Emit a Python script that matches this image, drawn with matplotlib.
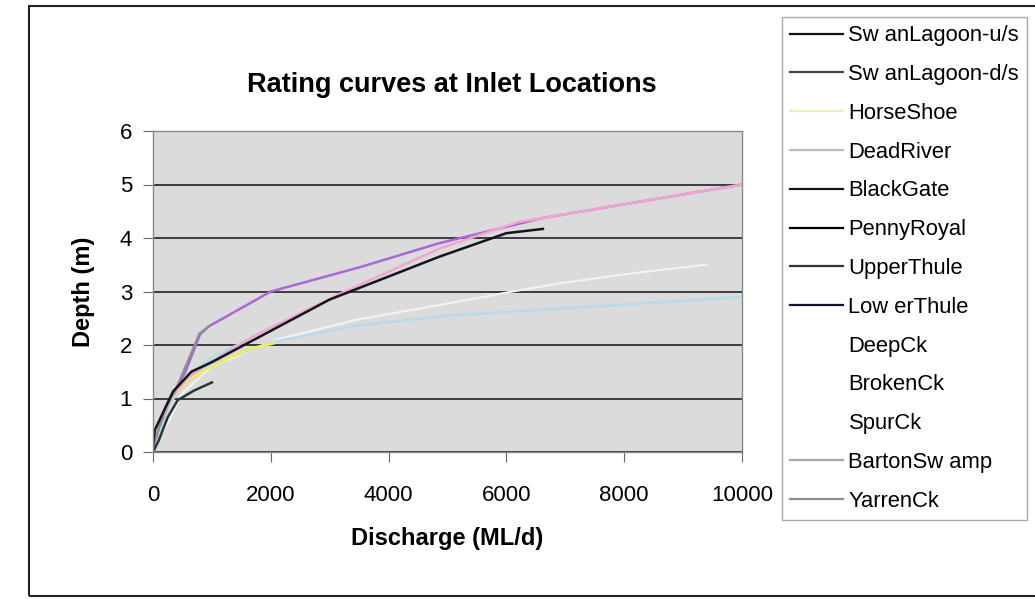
import matplotlib
matplotlib.use("Agg")
import matplotlib.pyplot as plt
from matplotlib.lines import Line2D
from matplotlib.patches import Rectangle

plt.rcParams['font.family'] = ['Liberation Sans', 'DejaVu Sans']

# discharge (ML/d) / depth (m) pairs per inlet
swan_us_q = [0, 100, 250, 420, 700, 1000]
swan_us_d = [0, 0.22, 0.65, 0.97, 1.15, 1.3]

lower_thule_q = [0, 100, 300, 550, 800, 950, 2000, 3500, 4850, 6600, 10000]
lower_thule_d = [0.05, 0.45, 1.0, 1.5, 2.2, 2.35, 3.0, 3.45, 3.9, 4.37, 5.0]

blackgate_q = [0, 100, 300, 600, 1000, 1700, 3200, 4860, 6200, 6600, 10000]
blackgate_d = [0, 0.5, 1.0, 1.4, 1.7, 2.16, 2.97, 3.8, 4.3, 4.37, 5.0]

pennyroyal_q = [0, 30, 340, 650, 1000, 1650, 3000, 4860, 6000, 6620]
pennyroyal_d = [0.1, 0.41, 1.13, 1.5, 1.68, 2.06, 2.85, 3.65, 4.09, 4.17]

upper_thule_q = [0, 60, 200, 500, 1000, 2000, 3500, 5000, 7500, 10000]
upper_thule_d = [0, 0.25, 0.75, 1.25, 1.65, 2.05, 2.37, 2.55, 2.72, 2.9]

horseshoe_q = [0, 100, 300, 600, 1000, 1600, 2050]
horseshoe_d = [0, 0.5, 1.0, 1.35, 1.6, 1.92, 2.03]

deadriver_q = [0, 200, 400, 565, 790, 950]
deadriver_d = [0.1, 0.8, 1.2, 1.63, 2.22, 2.35]

brokenck_q = [0, 300, 600, 1045, 1610]
brokenck_d = [0, 1.0, 1.45, 1.81, 2.09]

deepck_q = [0, 500, 1000, 2100, 3450, 5030, 6050, 6950, 8130, 9390]
deepck_d = [0, 1.1, 1.6, 2.1, 2.47, 2.78, 2.99, 3.16, 3.34, 3.5]

spurck_q = [0, 60, 150]
spurck_d = [0, 0.3, 0.5]

legend_labels = ["Sw anLagoon-u/s", "Sw anLagoon-d/s", "HorseShoe", "DeadRiver",
                 "BlackGate", "PennyRoyal", "UpperThule", "Low erThule",
                 "DeepCk", "BrokenCk", "SpurCk", "BartonSw amp", "YarrenCk"]
legend_colors = ["#111111", "#444444", "#EFEFA8", "#BBBBBB", "#151515", "#000000",
                 "#333333", "#101030", "none", "none", "none", "#A8A8A8", "#8C8C8C"]

fig = plt.figure(figsize=(10.35, 5.99), dpi=100)
ax = fig.add_axes([153 / 1035, 1 - 452 / 599, 589 / 1035, 321 / 599])
ax.set_facecolor("#DBDBDB")

ax.plot(deepck_q, deepck_d, color="#F3F3F3", lw=1.5)
ax.plot(upper_thule_q, upper_thule_d, color="#B9DAEC", lw=1.8)
ax.plot(spurck_q, spurck_d, color="#A8D4F0", lw=2.5)
ax.plot(brokenck_q, brokenck_d, color="#A6E6DE", lw=1.6)
ax.plot(horseshoe_q, horseshoe_d, color="#EEEE55", lw=1.8)
ax.plot(lower_thule_q, lower_thule_d, color="#A868D8", lw=1.8)
ax.plot(blackgate_q, blackgate_d, color="#F2A6CC", lw=1.8)
ax.plot(deadriver_q, deadriver_d, color="#8E8E8E", lw=1.6)
ax.plot(swan_us_q, swan_us_d, color="#243A3A", lw=1.8)
ax.plot(pennyroyal_q, pennyroyal_d, color="#141420", lw=1.8)

ax.set_xlim(0, 10000)
ax.set_ylim(0, 6)
ax.set_xticks(range(0, 10001, 2000))
ax.set_yticks(range(0, 7))
ax.grid(axis="y", color="#303030", lw=1.3)
ax.set_axisbelow(True)
for side in ["left", "bottom", "right", "top"]:
    ax.spines[side].set_color("#8A8A8A")
    ax.spines[side].set_linewidth(1.0)
ax.tick_params(axis="x", length=7, pad=17, labelsize=16, color="#666666")
ax.tick_params(axis="y", length=7, pad=8, labelsize=16, color="#666666")

ax.set_xlabel("Discharge (ML/d)", fontsize=17, fontweight="bold")
ax.xaxis.set_label_coords(0.5, -0.235)
ax.set_ylabel("Depth (m)", fontsize=17, fontweight="bold")
ax.yaxis.set_label_coords(-0.099, 0.5)

fig.text(452 / 1035, 1 - 85 / 599, "Rating curves at Inlet Locations",
         ha="center", va="center", fontsize=19.5, fontweight="bold")

handles = [Line2D([], [], color=c, lw=1.6) for c in legend_colors]
leg = fig.legend(handles, legend_labels, loc="upper left",
                 bbox_to_anchor=(782 / 1035, 1 - 17 / 599),
                 fontsize=15.8, labelspacing=0.81, handlelength=2.4,
                 handletextpad=0.25, borderpad=0.38, borderaxespad=0,
                 fancybox=False, framealpha=1)
leg.get_frame().set_edgecolor("#AAAAAA")
leg.get_frame().set_linewidth(1.0)

# outer chart border
fig.patches.append(Rectangle((29 / 1035, 1 - 596 / 599), 1.1, 590 / 599,
                             transform=fig.transFigure, fill=False,
                             edgecolor="#222222", lw=1.5))

fig.savefig("out.png", dpi=100)
